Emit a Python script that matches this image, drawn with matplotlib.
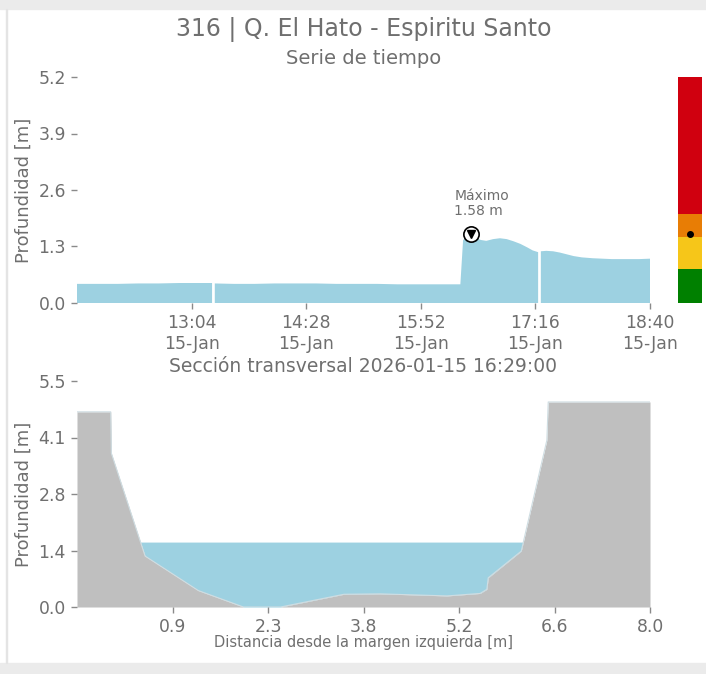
import numpy as np
import pandas as pd
import matplotlib
matplotlib.use('Agg')
from matplotlib import pyplot as plt
import matplotlib.dates as mdates
from matplotlib.patches import Rectangle

# time series (depth in m), NaN marks a gap in the record
ts_times = ['11:40', '11:55', '12:10', '12:25', '12:40', '12:55', '13:10', '13:19', '13:20', '13:21',
            '13:35', '13:50', '14:05', '14:20', '14:35', '14:50', '15:05', '15:20', '15:35', '15:50',
            '16:05', '16:21', '16:23', '16:26', '16:29', '16:32', '16:36', '16:40', '16:45', '16:50',
            '16:55', '17:00', '17:05', '17:10', '17:14', '17:18', '17:19', '17:20', '17:24', '17:29',
            '17:34', '17:39', '17:44', '17:50', '17:58', '18:05', '18:12', '18:18', '18:25', '18:32',
            '18:40']
ts_depth = [0.44, 0.44, 0.44, 0.45, 0.45, 0.46, 0.46, 0.46, np.nan, 0.45,
            0.44, 0.44, 0.45, 0.45, 0.45, 0.44, 0.44, 0.44, 0.43, 0.43,
            0.43, 0.43, 1.45, 1.52, 1.58, 1.50, 1.45, 1.43, 1.47, 1.49,
            1.47, 1.42, 1.36, 1.28, 1.21, 1.17, np.nan, 1.19, 1.20, 1.19,
            1.16, 1.12, 1.08, 1.05, 1.03, 1.02, 1.01, 1.01, 1.01, 1.01,
            1.02]
day = '2026-01-15'
max_time = '16:29'
max_depth = 1.58

# alert levels (bar on the right)
level_bottoms = [0.0, 0.78, 1.53, 2.04]
level_tops = [0.78, 1.53, 2.04, 5.2]
level_colors = ['#008000', '#f6c619', '#e87d05', '#d0000f']

# cross section
sec_x = [-0.5, 0.0, 0.01, 0.51, 1.30, 1.97, 2.52, 3.46, 4.0, 4.99, 5.48, 5.58, 5.60, 6.09, 6.47, 6.49, 8.0]
sec_z = [4.75, 4.75, 3.74, 1.24, 0.40, 0.0, 0.0, 0.31, 0.32, 0.27, 0.33, 0.43, 0.71, 1.36, 4.06, 4.99, 4.99]
water_level = 1.58

txt_color = '#6f6f6f'
water_color = '#9dd1e1'
ground_color = '#bfbfbf'

plt.rcParams['font.family'] = 'DejaVu Sans'

fig = plt.figure(figsize=(7.06, 6.74), dpi=100)
W, H = 706, 674

# page frame like the screenshot
fig.patches.append(Rectangle((0, 1 - 8.5 / H), 1, 8.5 / H, transform=fig.transFigure,
                             color='#ebebeb', zorder=0))
fig.patches.append(Rectangle((0, 0), 1, 11 / H, transform=fig.transFigure,
                             color='#ebebeb', zorder=0))
fig.patches.append(Rectangle((5.5 / W, 11 / H), 1.2 / W, 1 - 19.5 / H, transform=fig.transFigure,
                             color='#e4e4e4', zorder=0))


def px_axes(x0, y0, x1, y1):
    return fig.add_axes([x0 / W, 1 - y1 / H, (x1 - x0) / W, (y1 - y0) / H])


def style_axes(ax):
    for s in ax.spines.values():
        s.set_visible(False)
    ax.tick_params(colors='#8a8a8a', labelcolor=txt_color, labelsize=12.4,
                   length=4, width=1, pad=4)
    ax.set_facecolor('white')


# ---- top: time series ----
ax1 = px_axes(77, 77, 650, 303)
t = pd.to_datetime([day + ' ' + s for s in ts_times])
d = np.array(ts_depth)
ax1.fill_between(t, 0, d, color=water_color, lw=0)
t_max = pd.Timestamp(day + ' ' + max_time)
ax1.plot(t_max, max_depth, 'o', ms=11, mfc='white', mec='black', mew=1.2, zorder=5)
ax1.plot(t_max, max_depth, 'v', ms=6, color='black', zorder=6)
ax1.annotate('Máximo\n%.2f m' % max_depth, xy=(t_max, max_depth), xytext=(-17, 16),
             textcoords='offset pixels', ha='left', va='bottom', fontsize=10,
             color=txt_color, linespacing=1.1)

t0 = pd.Timestamp(day + ' 11:40')
t1 = pd.Timestamp(day + ' 18:40')
ax1.set_xlim(t0, t1)
ax1.set_ylim(0, 5.2)
ax1.set_yticks(np.linspace(0, 5.2, 5))
ax1.yaxis.set_major_formatter(plt.FormatStrFormatter('%.1f'))
ax1.set_xticks(pd.date_range(t0, t1, periods=6)[1:])
ax1.xaxis.set_major_formatter(mdates.DateFormatter('%H:%M\n%d-%b'))
style_axes(ax1)
ax1.set_ylabel('Profundidad [m]', fontsize=13, color=txt_color, labelpad=4)

# ---- alert bar ----
ax3 = px_axes(678, 77, 702, 303)
ax3.bar([0] * len(level_tops), np.array(level_tops) - np.array(level_bottoms),
        bottom=level_bottoms, width=1, color=level_colors, lw=0)
ax3.plot(0, max_depth, 'o', color='black', ms=4)
ax3.set_xlim(-0.5, 0.5)
ax3.set_ylim(0, 5.2)
ax3.axis('off')

# ---- bottom: cross section ----
ax2 = px_axes(77, 381, 650, 607)
sx = np.array(sec_x)
sz = np.array(sec_z)
ax2.fill_between(sx, sz, water_level, where=sz < water_level, interpolate=True,
                 color=water_color, lw=0)
ax2.fill_between(sx, 0, sz, color=ground_color, lw=0)
ax2.plot(sx, sz, color='#cfdde2', lw=0.8)
ax2.set_xlim(-0.5, 8.0)
ax2.set_ylim(0, 5.5)
ax2.set_xticks(np.linspace(-0.5, 8.0, 7)[1:])
ax2.set_yticks(np.linspace(0, 5.5, 5))
ax2.xaxis.set_major_formatter(plt.FormatStrFormatter('%.1f'))
ax2.yaxis.set_major_formatter(plt.FormatStrFormatter('%.1f'))
style_axes(ax2)
ax2.set_ylabel('Profundidad [m]', fontsize=13, color=txt_color, labelpad=4)

# titles
fig.text(0.5 * (77 + 650) / W, 1 - 36 / H, '316 | Q. El Hato - Espiritu Santo',
         ha='center', va='baseline', fontsize=17, color=txt_color)
fig.text(0.5 * (77 + 650) / W, 1 - 64 / H, 'Serie de tiempo',
         ha='center', va='baseline', fontsize=14, color=txt_color)
fig.text(0.5 * (77 + 650) / W, 1 - 372 / H, 'Sección transversal %s %s:00' % (day, max_time),
         ha='center', va='baseline', fontsize=13.5, color=txt_color)
fig.text(0.5 * (77 + 650) / W, 1 - 647 / H, 'Distancia desde la margen izquierda [m]',
         ha='center', va='baseline', fontsize=10.5, color=txt_color)

fig.savefig('out.png', dpi=100, facecolor='white')
